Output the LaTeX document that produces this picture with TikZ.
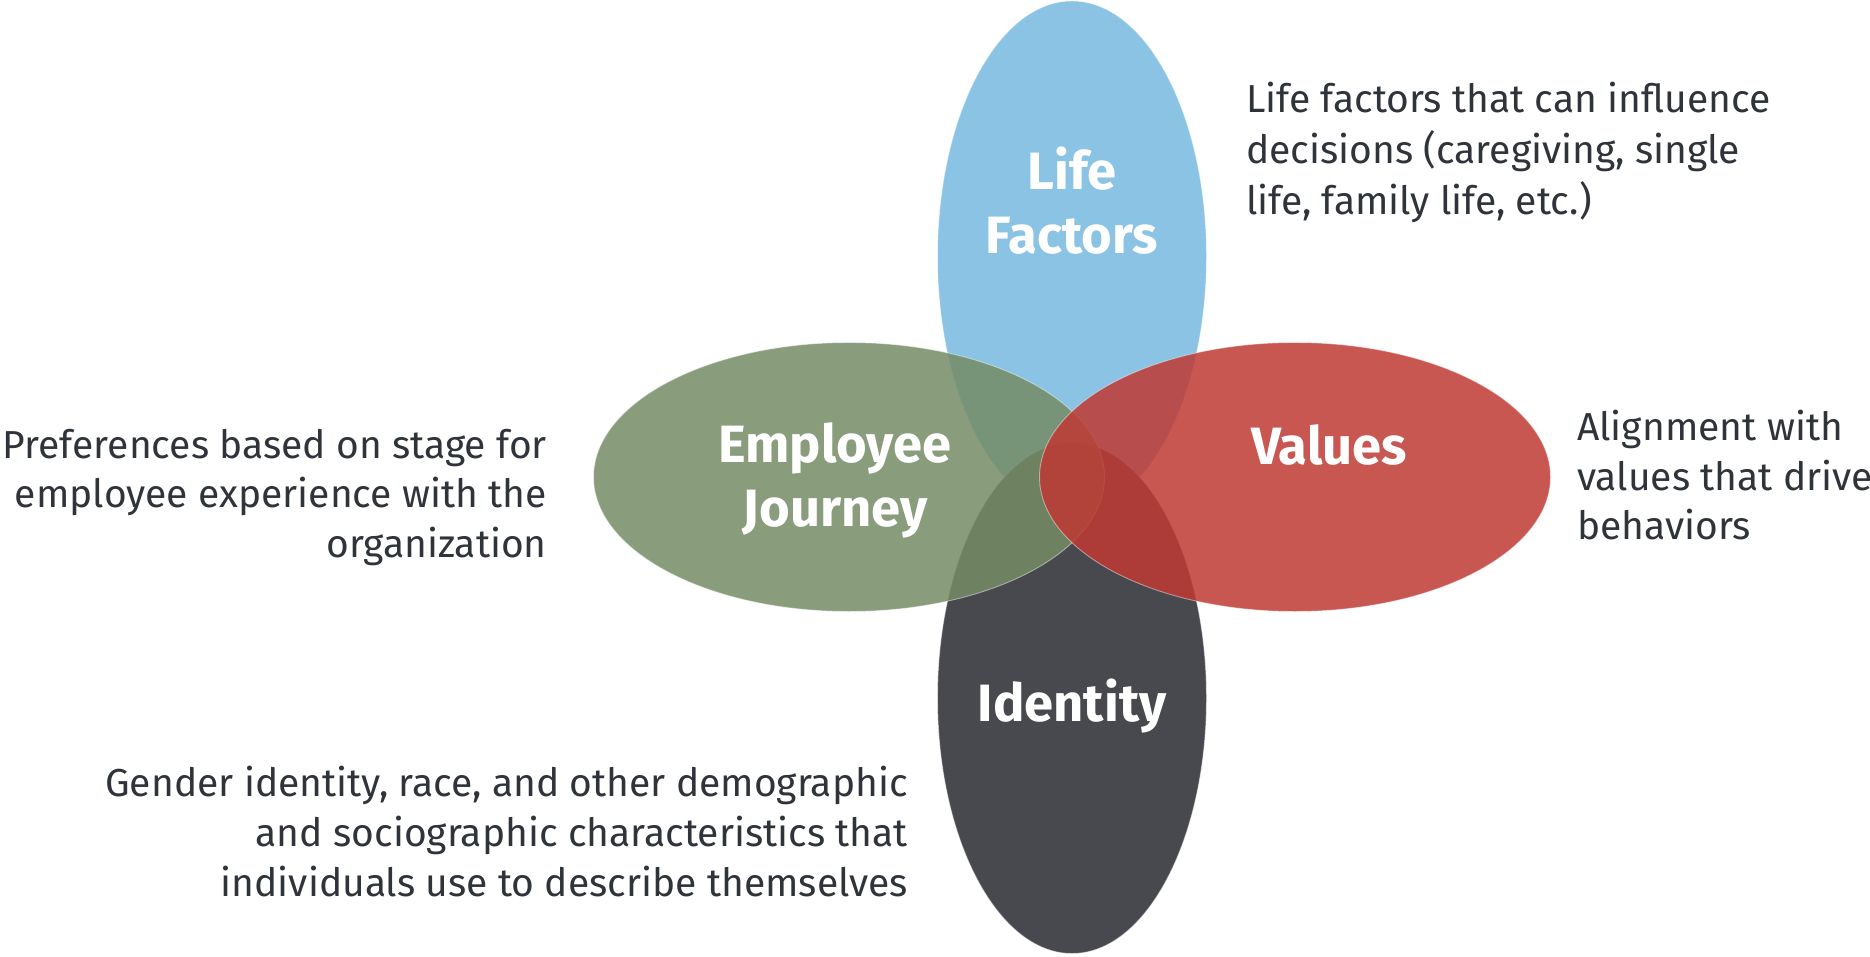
\documentclass[tikz,border=0pt]{standalone}
\usepackage{fontspec}
\setmainfont{Fira Sans}
\begin{document}
\definecolor{lifeblue}{HTML}{8AC3E4}
\definecolor{identdark}{HTML}{48494F}
\definecolor{journeygreen}{HTML}{758C66}
\definecolor{valuesred}{HTML}{BF3933}
\definecolor{bodytext}{HTML}{2F343B}
\begin{tikzpicture}[x=1pt,y=-1pt,
  petal/.style={draw=white,draw opacity=0.45,line width=0.9pt},
  label/.style={text=white,font=\fontsize{52.5}{62}\selectfont\bfseries,inner sep=0pt,anchor=base},
  desc/.style={text=bodytext,font=\fontsize{39}{51}\selectfont,inner sep=0pt},
  descL/.style={desc,anchor=base west},
  descR/.style={desc,anchor=base east}]
\fill[white] (0,0) rectangle (1870,957);
\useasboundingbox (0,0) rectangle (1870,957);
% four petals around the centre (1072,477)
\fill[lifeblue,petal] (1072,256.5) ellipse [x radius=134.5pt, y radius=255.5pt];
\fill[identdark,petal] (1072,698) ellipse [x radius=134.5pt, y radius=255.5pt];
\fill[journeygreen,fill opacity=0.85,petal] (849,477) ellipse [x radius=255.5pt, y radius=134.5pt];
\fill[valuesred,fill opacity=0.85,petal] (1295,477) ellipse [x radius=255.5pt, y radius=134.5pt];
% petal titles
\node[label] (life1) at (1072,190) {Life};
\node[label] (life2) at (1072,254) {Factors};
\node[label] (jour1) at (835,462) {Employee};
\node[label] (jour2) at (835,526) {Journey};
\node[label] (vals) at (1329,464) {Values};
\node[label] (ident) at (1072,721) {Identity};
% descriptions
\node[descL] (lf1) at (1246,113) {Life factors that can influence};
\node[descL] (lf2) at (1246,164) {decisions (caregiving, single};
\node[descL] (lf3) at (1246,215) {life, family life, etc.)};
\node[descR] (ej1) at (547,458) {Preferences based on stage for};
\node[descR] (ej2) at (547,507) {employee experience with the};
\node[descR] (ej3) at (547,557) {organization};
\node[descL] (va1) at (1577,440) {Alignment with};
\node[descL] (va2) at (1577,490) {values that drive};
\node[descL] (va3) at (1577,539) {behaviors};
\node[descR] (id1) at (908,796) {Gender identity, race, and other demographic};
\node[descR] (id2) at (908,846) {and sociographic characteristics that};
\node[descR] (id3) at (908,896) {individuals use to describe themselves};
\end{tikzpicture}
\end{document}
